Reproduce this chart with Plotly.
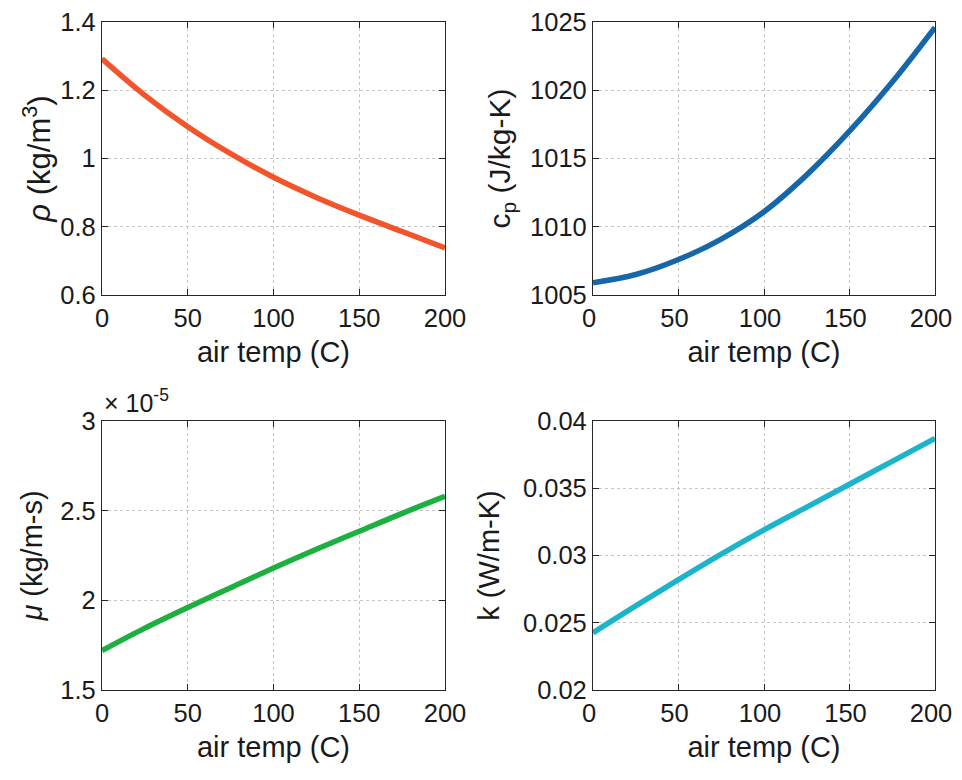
import plotly.graph_objects as go

temp = [0, 25, 50, 75, 100, 125, 150, 175, 200]
rho = [1.292, 1.185, 1.093, 1.014, 0.945, 0.886, 0.834, 0.786, 0.738]
cp = [1005.9, 1006.5, 1007.6, 1009.1, 1011.1, 1013.8, 1017.0, 1020.6, 1024.6]
mu = [1.72e-5, 1.845e-5, 1.96e-5, 2.07e-5, 2.18e-5, 2.285e-5, 2.385e-5, 2.485e-5, 2.58e-5]
k = [0.02425, 0.02625, 0.0282, 0.0301, 0.0319, 0.0336, 0.0353, 0.0370, 0.0387]

x_ticks = [0, 50, 100, 150, 200]
rho_ticks = [0.6, 0.8, 1.0, 1.2, 1.4]
rho_ticktext = ["0.6", "0.8", "1", "1.2", "1.4"]
cp_ticks = [1005, 1010, 1015, 1020, 1025]
mu_ticks = [1.5e-5, 2.0e-5, 2.5e-5, 3.0e-5]
mu_ticktext = ["1.5", "2", "2.5", "3"]
k_ticks = [0.02, 0.025, 0.03, 0.035, 0.04]
k_ticktext = ["0.02", "0.025", "0.03", "0.035", "0.04"]

# page body has an 8px margin, so the figure is drawn offset by 8px
OFF = 8
W, H = 962 - 2 * OFF, 780 - OFF
FONT = "Liberation Sans, Arial, sans-serif"
TXT = "#1a1a1a"

fig = go.Figure()
fig.add_trace(go.Scatter(x=temp, y=rho, mode="lines", line=dict(color="#F2552B", width=5.5, shape="spline"), xaxis="x", yaxis="y"))
fig.add_trace(go.Scatter(x=temp, y=cp, mode="lines", line=dict(color="#1667A9", width=5.5, shape="spline"), xaxis="x2", yaxis="y2"))
fig.add_trace(go.Scatter(x=temp, y=mu, mode="lines", line=dict(color="#1DB040", width=5.5, shape="spline"), xaxis="x3", yaxis="y3"))
fig.add_trace(go.Scatter(x=temp, y=k, mode="lines", line=dict(color="#1CB4CB", width=5.5, shape="spline"), xaxis="x4", yaxis="y4"))

def px_x(a, b):
    return [(a - OFF) / W, (b - OFF) / W]

def px_y(top, bottom):
    return [1 - (bottom - OFF) / H, 1 - (top - OFF) / H]

dom_x = [px_x(102, 445), px_x(593, 935)]
dom_y = [px_y(22, 295), px_y(421, 690)]

common_ax = dict(
    showline=True, linecolor="#262626", linewidth=1.2, mirror="ticks",
    ticks="inside", ticklen=6, tickcolor="#262626",
    showgrid=True, gridcolor="#C4C4C4", griddash="dot", gridwidth=1,
    zeroline=False, automargin=False, ticklabeloverflow="allow",
    tickfont=dict(family=FONT, size=25.5, color=TXT),
)

xtitle = dict(text="air temp (C)", font=dict(family=FONT, size=29, color=TXT), standoff=10)

layout_axes = {}
names = [("xaxis", "yaxis"), ("xaxis2", "yaxis2"), ("xaxis3", "yaxis3"), ("xaxis4", "yaxis4")]
ycfg = [
    dict(range=[0.6, 1.4], tickvals=rho_ticks, ticktext=rho_ticktext,
         title=dict(text="<i>ρ</i> (kg/m<sup>3</sup>)", standoff=0), tsize=31),
    dict(range=[1005, 1025], tickvals=cp_ticks,
         title=dict(text="c<sub>p</sub> (J/kg-K)", standoff=10), tsize=30),
    dict(range=[1.5e-5, 3.0e-5], tickvals=mu_ticks, ticktext=mu_ticktext,
         title=dict(text="<i>μ</i> (kg/m-s)", standoff=9), tsize=29),
    dict(range=[0.02, 0.04], tickvals=k_ticks, ticktext=k_ticktext,
         title=dict(text="k (W/m-K)", standoff=14), tsize=29),
]
for i, (xn, yn) in enumerate(names):
    col = i % 2
    row = i // 2
    suffix = "" if i == 0 else str(i + 1)
    xa = dict(common_ax)
    xa.update(domain=dom_x[col], range=[0, 200], tickvals=x_ticks, anchor="y" + suffix, title=xtitle)
    if col == 1:
        xa["ticklabelshift"] = -4
    ya = dict(common_ax)
    yc = dict(ycfg[i])
    t = yc.pop("title")
    ts = yc.pop("tsize")
    t["font"] = dict(family=FONT, size=ts, color=TXT)
    ya.update(domain=dom_y[row], anchor="x" + suffix, title=t, **yc)
    layout_axes[xn] = xa
    layout_axes[yn] = ya

fig.update_layout(
    width=W, height=H,
    margin=dict(l=0, r=0, t=0, b=0, autoexpand=False),
    paper_bgcolor="white", plot_bgcolor="white",
    showlegend=False,
    font=dict(family=FONT, color=TXT),
    annotations=[dict(
        text="× 10<sup>-5</sup>", xref="paper", yref="paper",
        x=(102 - OFF) / W, y=1 - (419 - OFF) / H, xanchor="left", yanchor="bottom",
        showarrow=False, font=dict(family=FONT, size=25, color=TXT),
    )],
    **layout_axes,
)

fig.write_html("out.html")
